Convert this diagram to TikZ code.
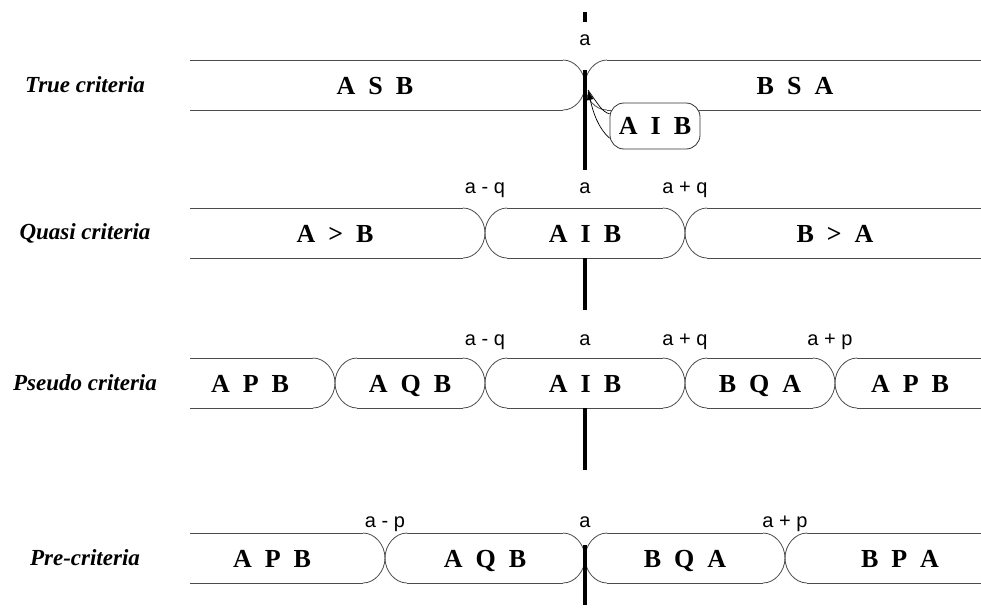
\documentclass[tikz,border=0pt]{standalone}
\usepackage{fontspec}
\setmainfont{Liberation Serif}
\newfontfamily\labfont{Liberation Sans}
\usetikzlibrary{arrows.meta}

\tikzset{
  band/.style={draw=black!70, line width=0.8pt},
  crit/.style={font=\fontsize{23}{26}\selectfont\bfseries\itshape},
  rel/.style={font=\fontsize{26}{30}\selectfont\bfseries, text height=17pt, text depth=0pt},
  thr/.style={font=\labfont\fontsize{20}{24}\selectfont, text height=11pt, text depth=4pt},
  axis/.style={line width=3.5pt},
  junct/.pic={
    \draw[band] (-22,-25) .. controls (-10,-25) and (0,-13) .. (0,0)
                .. controls (0,13) and (-10,25) .. (-22,25);
    \draw[band] (22,-25) .. controls (10,-25) and (0,-13) .. (0,0)
                .. controls (0,13) and (10,25) .. (22,25);
  }
}
\newcommand\prf[3]{#1\hspace{.5em}#2\hspace{.5em}#3}

\begin{document}
\begin{tikzpicture}[x=1pt,y=-1pt]
\useasboundingbox (0,0) rectangle (981,608);

% true criteria
\node[crit] (true) at (85,85) {True criteria};
\draw[band] (190,60) -- (563,60) (607,60) -- (981,60)
            (190,110) -- (563,110) (607,110) -- (981,110);
\pic at (585,85) {junct};
\node[rel] (asb) at (375,86) {\prf ASB};
\node[rel] (bsa) at (795,86) {\prf BSA};
\node[thr] (a0) at (585,42) {a};
\draw[axis] (585,12) -- (585,22) (585,70) -- (585,170);
\node[rel, draw=black!80, line width=0.8pt, fill=white, rounded corners=14pt,
      minimum width=90pt, minimum height=46pt, inner sep=2pt] (aib0) at (655,126) {\prf AIB};
\coordinate (tip) at (588,90);
\draw[line width=0.7pt] (aib0.165) .. controls (602,112) and (598,104) .. (tip);
\draw[line width=0.7pt, -{Latex[length=10pt,width=7pt]}] (aib0.195) .. controls (598,128) and (593,112) .. (tip);

% quasi criteria
\node[crit] (quasi) at (85,233) {Quasi criteria};
\draw[band] (190,208) -- (463,208) (507,208) -- (663,208) (707,208) -- (981,208)
            (190,258) -- (463,258) (507,258) -- (663,258) (707,258) -- (981,258);
\pic at (485,233) {junct};
\pic at (685,233) {junct};
\node[rel] (agb) at (335,234) {\prf A{>}B};
\node[rel] (aib1) at (585,234) {\prf AIB};
\node[rel] (bga) at (835,234) {\prf B{>}A};
\node[thr] (aq1) at (485,190) {a - q};
\node[thr] (a1) at (585,190) {a};
\node[thr] (bq1) at (685,190) {a + q};
\draw[axis] (585,258) -- (585,310);

% pseudo criteria
\node[crit] (pseudo) at (85,383) {Pseudo criteria};
\draw[band] (190,358) -- (313,358) (357,358) -- (463,358) (507,358) -- (663,358)
            (707,358) -- (813,358) (857,358) -- (981,358)
            (190,408) -- (313,408) (357,408) -- (463,408) (507,408) -- (663,408)
            (707,408) -- (813,408) (857,408) -- (981,408);
\pic at (335,383) {junct};
\pic at (485,383) {junct};
\pic at (685,383) {junct};
\pic at (835,383) {junct};
\node[rel] (apb2) at (250,384) {\prf APB};
\node[rel] (aqb2) at (410,384) {\prf AQB};
\node[rel] (aib2) at (585,384) {\prf AIB};
\node[rel] (bqa2) at (760,384) {\prf BQA};
\node[rel] (bpa2) at (910,384) {\prf APB};
\node[thr] (aq2) at (485,342) {a - q};
\node[thr] (a2) at (585,342) {a};
\node[thr] (bq2) at (685,342) {a + q};
\node[thr] (bp2) at (830,342) {a + p};
\draw[axis] (585,408) -- (585,470);

% pre-criteria
\node[crit] (pre) at (85,558) {Pre-criteria};
\draw[band] (190,533) -- (363,533) (407,533) -- (563,533) (607,533) -- (763,533) (807,533) -- (981,533)
            (190,583) -- (363,583) (407,583) -- (563,583) (607,583) -- (763,583) (807,583) -- (981,583);
\pic at (385,558) {junct};
\pic at (585,558) {junct};
\pic at (785,558) {junct};
\node[rel] (apb3) at (272,559) {\prf APB};
\node[rel] (aqb3) at (485,559) {\prf AQB};
\node[rel] (bqa3) at (685,559) {\prf BQA};
\node[rel] (bpa3) at (900,559) {\prf BPA};
\node[thr] (ap3) at (385,524) {a - p};
\node[thr] (a3) at (585,524) {a};
\node[thr] (bp3) at (785,524) {a + p};
\draw[axis] (585,545) -- (585,605);
\end{tikzpicture}
\end{document}
